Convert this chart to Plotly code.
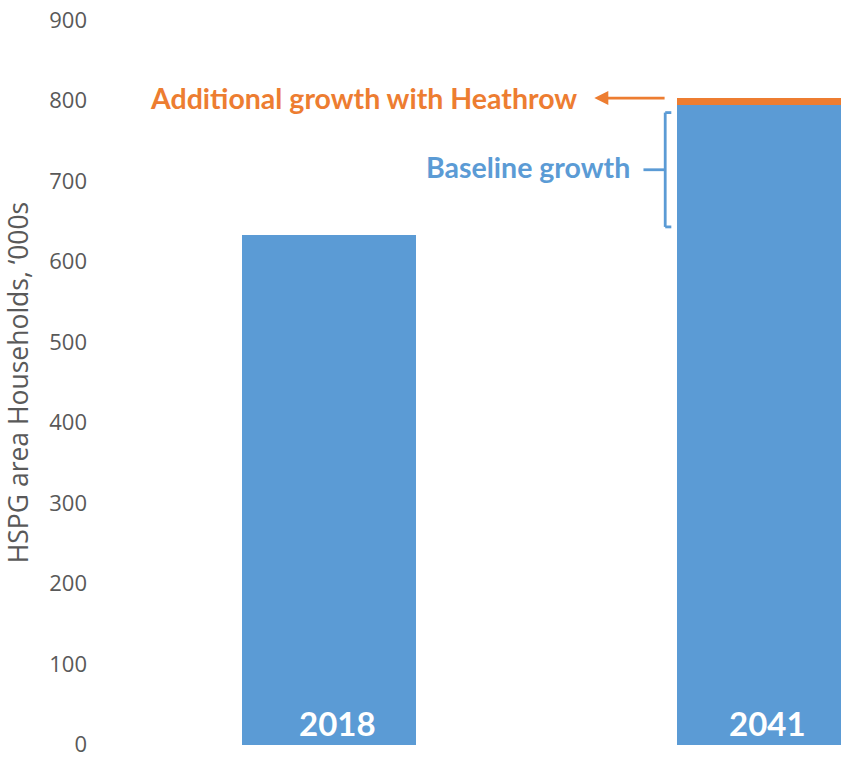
import plotly.graph_objects as go

# Household counts for the HSPG area, thousands
years = ["2018", "2041"]
baseline = [633, 795]
heathrow_extra = [0, 8]
y_ticks = [0, 100, 200, 300, 400, 500, 600, 700, 800, 900]

BLUE = "#5B9BD5"
ORANGE = "#ED7D31"
GREY = "#595959"

x_pos = list(range(len(years)))

fig = go.Figure()
fig.add_trace(go.Bar(
    x=x_pos, y=baseline, marker_color=BLUE, marker_line_width=0,
    width=0.4, hoverinfo="skip",
))
fig.add_trace(go.Bar(
    x=x_pos, y=heathrow_extra, marker_color=ORANGE, marker_line_width=0,
    width=0.4, hoverinfo="skip",
))

# year labels sitting at the foot of each bar
for xp, yr, dx in zip(x_pos, years, [9, 4]):
    fig.add_annotation(
        x=xp, y=0, xref="x", yref="y", text=f"<b>{yr}</b>", showarrow=False,
        xanchor="center", yanchor="bottom", xshift=dx, yshift=0,
        font=dict(family="Lato", size=33, color="white"),
    )

# bar 2041 left edge in data units
b2 = x_pos[1] - 0.2
total_2041 = baseline[1] + heathrow_extra[1]

# Heathrow arrow, pointing left toward its label
fig.add_annotation(
    x=b2 - 0.19, y=total_2041, ax=b2 - 0.025, ay=total_2041,
    xref="x", yref="y", axref="x", ayref="y",
    text="", showarrow=True, arrowhead=2, arrowsize=1.0, arrowwidth=2.8,
    arrowcolor=ORANGE,
)
fig.add_annotation(
    x=b2 - 0.226, y=total_2041, xref="x", yref="y",
    text="<b>Additional growth with Heathrow</b>", showarrow=False,
    xanchor="right", yanchor="middle",
    font=dict(family="Lato", size=28.5, color=ORANGE),
)

# Bracket spanning baseline growth
br_top = baseline[1] - 10
br_bot = baseline[0] + 10
br_mid = (br_top + br_bot) / 2
bx = b2 - 0.027
line = dict(color=BLUE, width=2.8)
fig.add_shape(type="line", x0=bx, x1=bx, y0=br_bot, y1=br_top, xref="x", yref="y", line=line)
fig.add_shape(type="line", x0=bx, x1=bx + 0.014, y0=br_top, y1=br_top, xref="x", yref="y", line=line)
fig.add_shape(type="line", x0=bx, x1=bx + 0.014, y0=br_bot, y1=br_bot, xref="x", yref="y", line=line)
fig.add_shape(type="line", x0=bx - 0.05, x1=bx, y0=br_mid, y1=br_mid, xref="x", yref="y", line=line)
fig.add_annotation(
    x=bx - 0.077, y=br_mid + 3, xref="x", yref="y",
    text="<b>Baseline growth</b>", showarrow=False,
    xanchor="right", yanchor="middle",
    font=dict(family="Lato", size=28.5, color=BLUE),
)

fig.update_layout(
    barmode="stack",
    width=841, height=758,
    margin=dict(l=100, r=0, t=20, b=13),
    plot_bgcolor="white", paper_bgcolor="white",
    showlegend=False,
    xaxis=dict(range=[-0.526, 1.177], showticklabels=False, showgrid=False,
               zeroline=False, showline=False, ticks=""),
    yaxis=dict(range=[-0.5, 900], tickvals=y_ticks, showgrid=False, zeroline=False,
               showline=False, ticks="", ticklabelstandoff=12,
               ticklabeloverflow="allow",
               tickfont=dict(family="Open Sans", size=22, color=GREY),
               title=dict(text="HSPG area Households, \u2018000s", standoff=12,
                          font=dict(family="Open Sans", size=26.5, color=GREY))),
)

fig.write_html("out.html")
